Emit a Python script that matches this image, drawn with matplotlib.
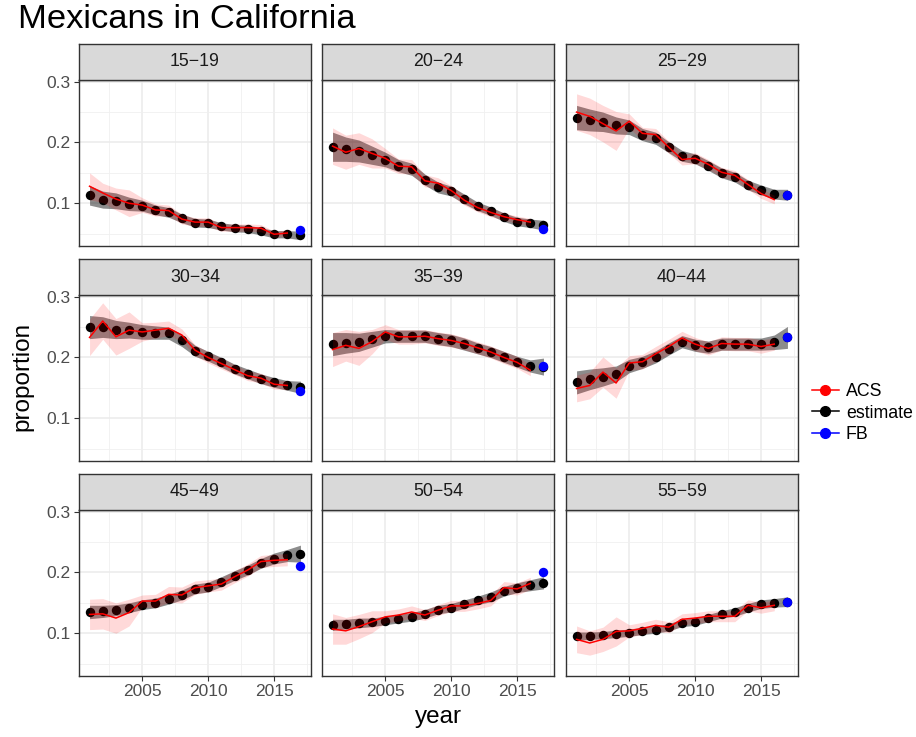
import numpy as np
import matplotlib
matplotlib.use("Agg")
import matplotlib.pyplot as plt
from matplotlib.lines import Line2D

plt.rcParams['font.family'] = ['Liberation Sans', 'DejaVu Sans']

years = list(range(2001, 2018))
acs_years = list(range(2001, 2017))
groups = ["15\u221219", "20\u221224", "25\u221229", "30\u221234", "35\u221239",
          "40\u221244", "45\u221249", "50\u221254", "55\u221259"]

estimate = [
    [0.113, 0.106, 0.104, 0.099, 0.096, 0.089, 0.085, 0.075, 0.068, 0.067, 0.062, 0.059, 0.058, 0.054, 0.049, 0.049, 0.047],
    [0.193, 0.189, 0.186, 0.179, 0.172, 0.162, 0.156, 0.139, 0.126, 0.120, 0.107, 0.095, 0.087, 0.077, 0.070, 0.067, 0.064],
    [0.241, 0.237, 0.234, 0.228, 0.225, 0.213, 0.207, 0.192, 0.178, 0.173, 0.162, 0.150, 0.143, 0.130, 0.122, 0.115, 0.114],
    [0.250, 0.250, 0.246, 0.245, 0.242, 0.241, 0.240, 0.228, 0.211, 0.202, 0.192, 0.181, 0.173, 0.165, 0.159, 0.154, 0.151],
    [0.222, 0.224, 0.225, 0.230, 0.235, 0.235, 0.235, 0.235, 0.231, 0.228, 0.222, 0.215, 0.209, 0.201, 0.193, 0.186, 0.185],
    [0.159, 0.164, 0.168, 0.173, 0.186, 0.192, 0.201, 0.214, 0.226, 0.220, 0.217, 0.222, 0.222, 0.222, 0.222, 0.225, 0.233],
    [0.135, 0.136, 0.138, 0.142, 0.147, 0.150, 0.156, 0.163, 0.173, 0.176, 0.185, 0.195, 0.204, 0.215, 0.223, 0.228, 0.231],
    [0.114, 0.115, 0.117, 0.118, 0.121, 0.124, 0.127, 0.132, 0.139, 0.142, 0.148, 0.154, 0.160, 0.169, 0.175, 0.179, 0.183],
    [0.095, 0.096, 0.097, 0.099, 0.101, 0.104, 0.106, 0.110, 0.117, 0.119, 0.125, 0.131, 0.135, 0.142, 0.148, 0.150, 0.152],
]
estimate_err = [
    [0.016, 0.014, 0.013, 0.011, 0.009, 0.008, 0.008, 0.007, 0.007, 0.007, 0.006, 0.006, 0.006, 0.006, 0.006, 0.006, 0.007],
    [0.024, 0.020, 0.018, 0.015, 0.012, 0.010, 0.010, 0.009, 0.009, 0.008, 0.008, 0.007, 0.007, 0.007, 0.007, 0.007, 0.008],
    [0.020, 0.018, 0.016, 0.014, 0.012, 0.010, 0.010, 0.009, 0.009, 0.008, 0.008, 0.008, 0.008, 0.008, 0.008, 0.008, 0.009],
    [0.019, 0.017, 0.015, 0.013, 0.012, 0.011, 0.010, 0.010, 0.009, 0.008, 0.008, 0.008, 0.008, 0.008, 0.008, 0.008, 0.010],
    [0.019, 0.017, 0.015, 0.013, 0.011, 0.010, 0.010, 0.010, 0.010, 0.010, 0.010, 0.009, 0.009, 0.009, 0.009, 0.010, 0.014],
    [0.019, 0.017, 0.015, 0.013, 0.011, 0.010, 0.010, 0.010, 0.010, 0.010, 0.010, 0.010, 0.010, 0.010, 0.010, 0.012, 0.018],
    [0.011, 0.010, 0.009, 0.008, 0.008, 0.008, 0.008, 0.008, 0.008, 0.008, 0.008, 0.008, 0.008, 0.008, 0.009, 0.010, 0.014],
    [0.009, 0.008, 0.008, 0.007, 0.007, 0.007, 0.007, 0.007, 0.007, 0.007, 0.007, 0.007, 0.008, 0.008, 0.008, 0.009, 0.010],
    [0.007, 0.006, 0.006, 0.006, 0.006, 0.006, 0.006, 0.006, 0.006, 0.006, 0.006, 0.006, 0.007, 0.007, 0.007, 0.007, 0.008],
]
acs = [
    [0.128, 0.117, 0.107, 0.100, 0.097, 0.089, 0.088, 0.074, 0.069, 0.069, 0.060, 0.060, 0.060, 0.059, 0.049, 0.051],
    [0.194, 0.184, 0.190, 0.182, 0.174, 0.161, 0.160, 0.137, 0.133, 0.121, 0.105, 0.093, 0.085, 0.078, 0.073, 0.069],
    [0.250, 0.243, 0.231, 0.219, 0.235, 0.215, 0.213, 0.192, 0.172, 0.174, 0.164, 0.151, 0.146, 0.131, 0.116, 0.106],
    [0.233, 0.260, 0.234, 0.245, 0.242, 0.245, 0.248, 0.237, 0.212, 0.200, 0.190, 0.180, 0.170, 0.166, 0.156, 0.154],
    [0.213, 0.220, 0.215, 0.226, 0.242, 0.234, 0.234, 0.235, 0.231, 0.228, 0.223, 0.216, 0.209, 0.200, 0.192, 0.179],
    [0.149, 0.154, 0.176, 0.158, 0.191, 0.193, 0.206, 0.218, 0.232, 0.222, 0.215, 0.223, 0.222, 0.222, 0.218, 0.222],
    [0.131, 0.132, 0.125, 0.134, 0.153, 0.153, 0.164, 0.163, 0.175, 0.178, 0.181, 0.193, 0.204, 0.218, 0.220, 0.221],
    [0.107, 0.104, 0.111, 0.119, 0.127, 0.130, 0.135, 0.130, 0.138, 0.145, 0.145, 0.149, 0.154, 0.175, 0.173, 0.182],
    [0.090, 0.084, 0.090, 0.103, 0.104, 0.108, 0.113, 0.110, 0.123, 0.125, 0.128, 0.128, 0.128, 0.146, 0.142, 0.146],
]
acs_err = [
    [0.022, 0.016, 0.018, 0.022, 0.012, 0.010, 0.009, 0.008, 0.007, 0.007, 0.006, 0.006, 0.006, 0.006, 0.005, 0.005],
    [0.030, 0.028, 0.026, 0.024, 0.016, 0.012, 0.012, 0.010, 0.009, 0.008, 0.008, 0.007, 0.007, 0.006, 0.006, 0.006],
    [0.030, 0.030, 0.030, 0.032, 0.012, 0.010, 0.010, 0.010, 0.009, 0.009, 0.008, 0.008, 0.008, 0.008, 0.008, 0.007],
    [0.030, 0.030, 0.030, 0.030, 0.015, 0.013, 0.012, 0.010, 0.009, 0.009, 0.009, 0.008, 0.008, 0.008, 0.008, 0.007],
    [0.028, 0.026, 0.028, 0.020, 0.012, 0.012, 0.012, 0.011, 0.011, 0.011, 0.010, 0.010, 0.010, 0.010, 0.010, 0.009],
    [0.022, 0.022, 0.025, 0.025, 0.012, 0.012, 0.012, 0.012, 0.011, 0.011, 0.011, 0.011, 0.011, 0.011, 0.011, 0.010],
    [0.025, 0.025, 0.025, 0.022, 0.010, 0.011, 0.013, 0.013, 0.011, 0.010, 0.010, 0.010, 0.010, 0.010, 0.010, 0.010],
    [0.025, 0.022, 0.020, 0.018, 0.010, 0.010, 0.010, 0.009, 0.009, 0.009, 0.009, 0.009, 0.009, 0.010, 0.010, 0.010],
    [0.022, 0.020, 0.020, 0.024, 0.010, 0.010, 0.010, 0.009, 0.009, 0.009, 0.009, 0.009, 0.009, 0.009, 0.009, 0.009],
]
fb = [0.056, 0.057, 0.114, 0.145, 0.186, 0.233, 0.210, 0.200, 0.151]
fb_year = 2017

W, H = 916, 737
fig = plt.figure(figsize=(W / 100, H / 100), dpi=100)

col_left = [79, 322, 566]
row_top = [80, 295, 510]
pw, ph, sh = 232, 166, 36
txt = "#4d4d4d"

def px_axes(left, top, w, h):
    return fig.add_axes([left / W, 1 - (top + h) / H, w / W, h / H])

for i, g in enumerate(groups):
    r, c = divmod(i, 3)
    ax = px_axes(col_left[c], row_top[r], pw, ph)
    ax.set_xlim(2000.2, 2017.8)
    ax.set_ylim(0.0297, 0.3028)
    ax.set_xticks([2005, 2010, 2015])
    ax.set_xticks([2002.5, 2007.5, 2012.5, 2017.5], minor=True)
    ax.set_yticks([0.1, 0.2, 0.3])
    ax.set_yticks([0.05, 0.15, 0.25], minor=True)
    ax.grid(True, which='major', color='#ebebeb', lw=1.1)
    ax.grid(True, which='minor', color='#f0f0f0', lw=0.6)
    ax.set_axisbelow(True)
    for s in ax.spines.values():
        s.set_color('#333333')
        s.set_linewidth(1.0)
    ax.tick_params(which='minor', length=0)
    ax.tick_params(which='major', length=3.5, color='#333333', labelsize=12.5,
                   labelcolor=txt, width=0.8, pad=2.5)
    if r < 2:
        ax.tick_params(axis='x', length=0, labelbottom=False)
    if c > 0:
        ax.tick_params(axis='y', length=0, labelleft=False)
    else:
        ax.set_yticklabels(["0.1", "0.2", "0.3"])

    est = np.array(estimate[i])
    ee = np.array(estimate_err[i])
    a = np.array(acs[i])
    ae = np.array(acs_err[i])
    ax.fill_between(years, est - ee, est + ee, color='black', alpha=0.45, lw=0, zorder=2)
    ax.scatter(years, est, s=46, color='black', lw=0, zorder=3)
    ax.fill_between(acs_years, a - ae, a + ae, color='red', alpha=0.15, lw=0, zorder=4)
    ax.plot(acs_years, a, color='red', lw=1.1, zorder=5)
    ax.scatter([fb_year], [fb[i]], s=46, color='blue', lw=0, zorder=6)

    sax = px_axes(col_left[c], row_top[r] - sh, pw, sh)
    sax.set_facecolor('#d9d9d9')
    sax.set_xticks([])
    sax.set_yticks([])
    for s in sax.spines.values():
        s.set_color('#333333')
        s.set_linewidth(1.0)
    sax.text(0.5, 0.5, g, ha='center', va='center', fontsize=12.8,
             color='#1a1a1a', transform=sax.transAxes)

fig.text(18 / W, 1 - 19 / H, "Mexicans in California", fontsize=24.8,
         ha='left', va='center', color='black')
fig.text(22 / W, 1 - 376 / H, "proportion", fontsize=17.5, rotation=90,
         ha='center', va='center')
fig.text(438 / W, 1 - 717 / H, "year", fontsize=17.5, ha='center', va='center')

handles = [Line2D([0], [0], color=col, marker='o', markersize=7, lw=1.1)
           for col in ['red', 'black', 'blue']]
fig.legend(handles, ["ACS", "estimate", "FB"], loc='center left',
           bbox_to_anchor=(805 / W, 1 - 413 / H), frameon=False,
           fontsize=12.8, handlelength=1.5, handletextpad=0.4,
           labelspacing=0.25, borderaxespad=0)

fig.savefig("out.png", dpi=100)
